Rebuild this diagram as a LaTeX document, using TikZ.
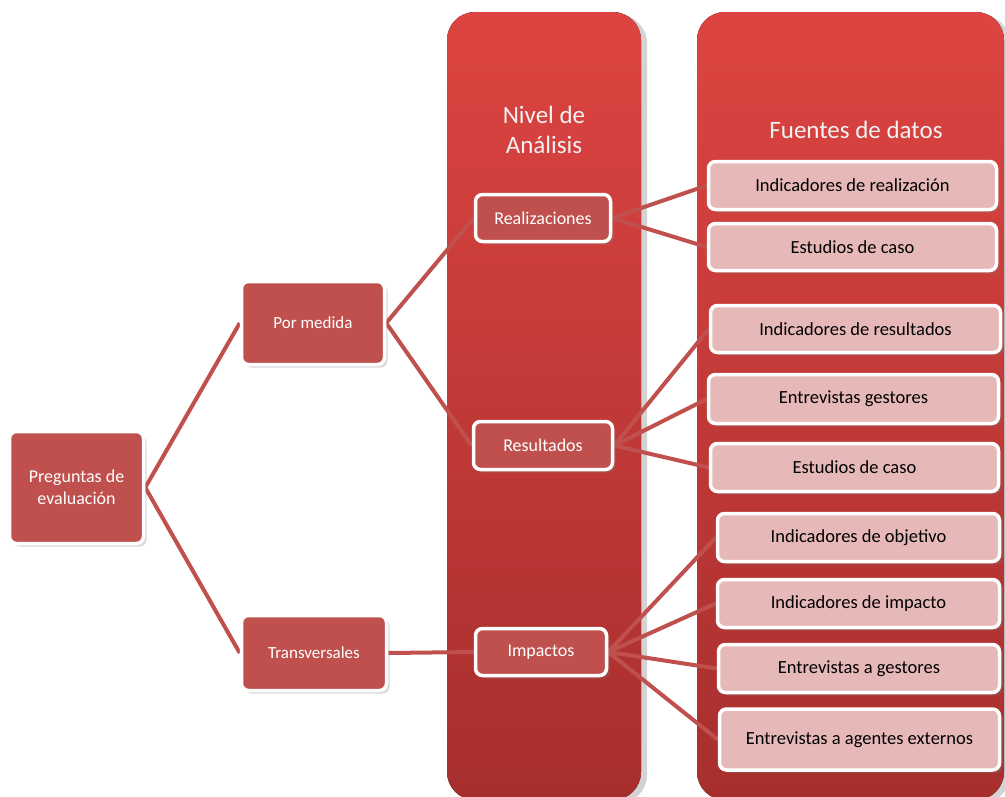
\documentclass[tikz,border=0pt]{standalone}
\usepackage{fontspec}
\setmainfont{Carlito}
\usetikzlibrary{shadows}
\definecolor{boxred}{HTML}{C0504D}
\definecolor{boxpink}{HTML}{E6B9B8}
\definecolor{coltop}{HTML}{DD4441}
\definecolor{colbot}{HTML}{A62F2E}
\definecolor{titlegray}{HTML}{F2F2F2}
\pgfdeclarelayer{cols}
\pgfdeclarelayer{links}
\pgfsetlayers{cols,links,main}

\begin{document}
\begin{tikzpicture}[x=1pt,y=-1pt,
  column/.style={rounded corners=28pt, top color=coltop, bottom color=colbot,
    drop shadow={shadow xshift=6pt, shadow yshift=-3pt, opacity=0.35}},
  redbox/.style={draw=white, line width=3.5pt, rounded corners=7pt, fill=boxred,
    text=white, align=center, inner sep=2pt, font=\fontsize{18}{22}\selectfont,
    drop shadow={shadow xshift=3pt, shadow yshift=-3pt, opacity=0.3}},
  pinkbox/.style={redbox, fill=boxpink, text=black, font=\fontsize{18.5}{22}\selectfont},
  title/.style={text=titlegray, align=center, font=\fontsize{25}{30}\selectfont},
  link/.style={boxred, line width=4pt}]
\useasboundingbox (0,0) rectangle (1005,796);

% columns
\begin{pgfonlayer}{cols}
\fill[column] (447,12) rectangle (641,800);
\fill[column] (697,12) rectangle (1004,800);
\end{pgfonlayer}
\node[title] (nivel) at (544,130) {Nivel de\\Análisis};
\node[title] (fuentes) at (856,130) {Fuentes de datos};

% left part of the tree
\node[redbox, minimum width=134, minimum height=112] (preg) at (76.5,487.5) {Preguntas de\\evaluación};
\node[redbox, minimum width=143, minimum height=83, font=\fontsize{17}{20}\selectfont] (pormed) at (313,323) {Por medida};
\node[redbox, minimum width=145, minimum height=75, font=\fontsize{17}{20}\selectfont] (trans) at (314,653) {Transversales};
\node[redbox, minimum width=135, minimum height=47] (real) at (543,218) {Realizaciones};
\node[redbox, minimum width=139, minimum height=48] (resu) at (543,445.5) {Resultados};
\node[redbox, minimum width=131, minimum height=47] (impa) at (541,652) {Impactos};

% data sources
\node[pinkbox, minimum width=288, minimum height=48] (f1) at (852.5,185.5) {Indicadores de realización};
\node[pinkbox, minimum width=288, minimum height=47] (f2) at (852.5,247) {Estudios de caso};
\node[pinkbox, minimum width=290, minimum height=47] (f3) at (855.5,329) {Indicadores de resultados};
\node[pinkbox, minimum width=290, minimum height=49] (f4) at (853.5,399) {Entrevistas gestores};
\node[pinkbox, minimum width=288, minimum height=48] (f5) at (854.5,467.5) {Estudios de caso};
\node[pinkbox, minimum width=282, minimum height=48] (f6) at (858.5,537.5) {Indicadores de objetivo};
\node[pinkbox, minimum width=282, minimum height=48] (f7) at (858.5,603.5) {Indicadores de impacto};
\node[pinkbox, minimum width=281, minimum height=48] (f8) at (859,668.5) {Entrevistas a gestores};
\node[pinkbox, minimum width=280, minimum height=61] (f9) at (859.5,739.5) {Entrevistas a agentes externos};

% connectors
\begin{pgfonlayer}{links}
\draw[link] (pormed.west) -- (preg.east) -- (trans.west);
\draw[link] (real.west) -- (pormed.east) -- (resu.west);
\draw[link] (trans.east) -- (impa.west);
\foreach \f in {f1,f2}
  \draw[link] (real.east) -- (\f.west);
\foreach \f in {f3,f4,f5}
  \draw[link] (resu.east) -- (\f.west);
\foreach \f in {f6,f7,f8,f9}
  \draw[link] (impa.east) -- (\f.west);
\end{pgfonlayer}
\end{tikzpicture}
\end{document}
